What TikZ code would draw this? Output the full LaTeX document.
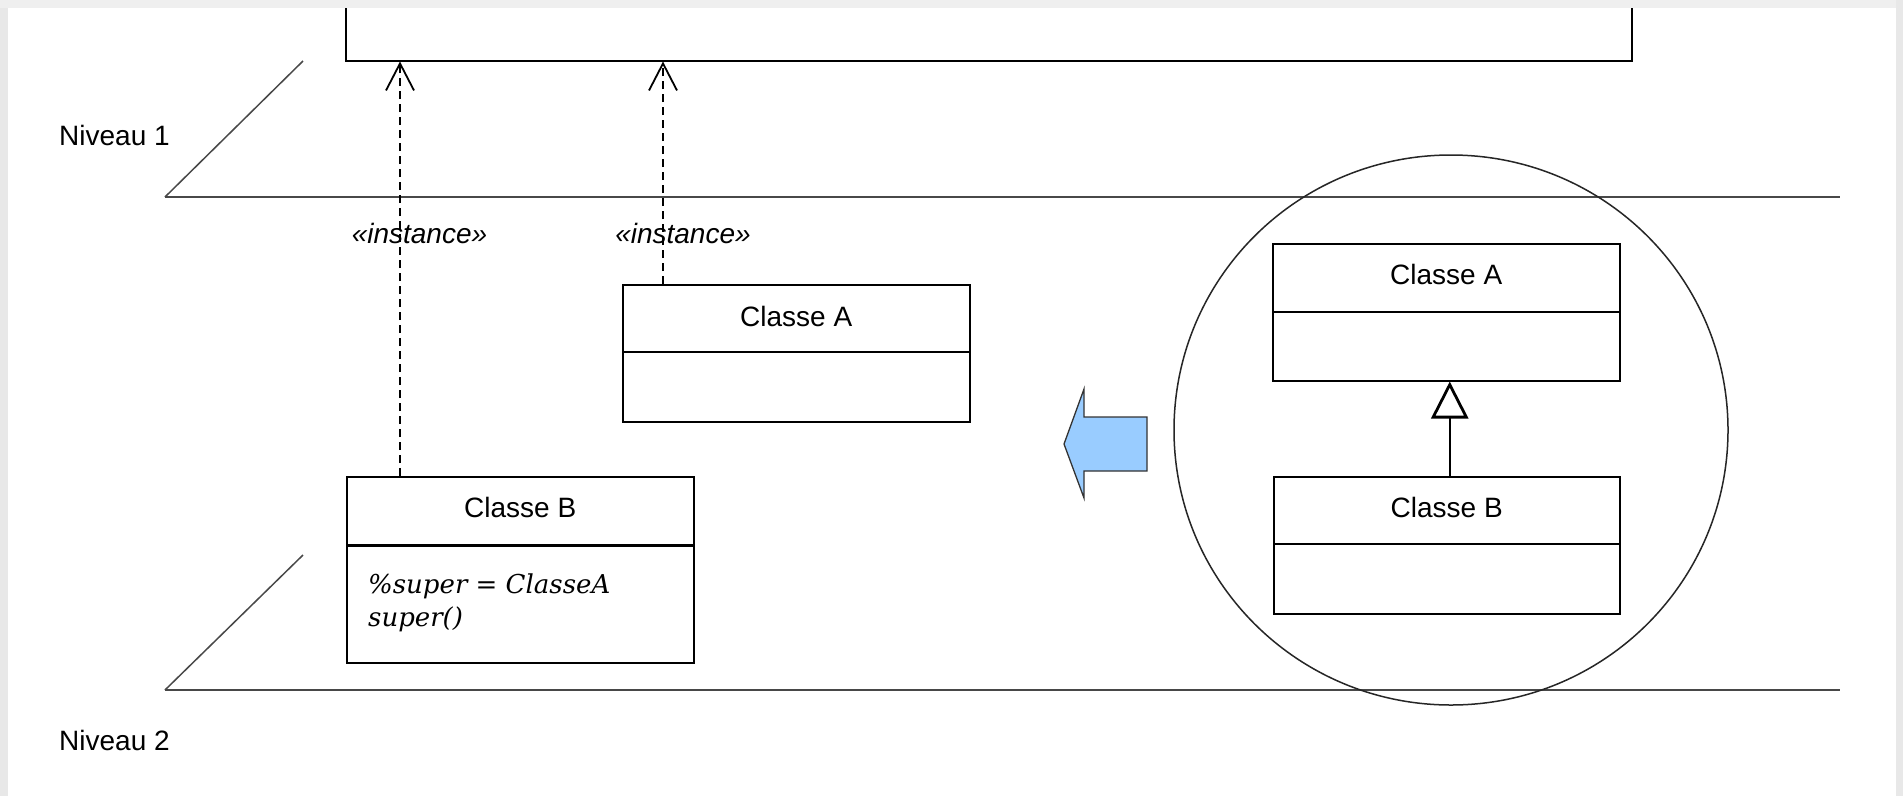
\documentclass[tikz,border=0pt]{standalone}
\usepackage{fontspec}
\setmainfont{Liberation Sans}
\newfontfamily\codefont{DejaVu Serif}
\usetikzlibrary{arrows.meta,shapes.geometric}
\definecolor{bandgray}{HTML}{E8E8E8}
\definecolor{topgray}{HTML}{EFEFEF}
\definecolor{layergray}{HTML}{484848}
\definecolor{arrowblue}{HTML}{99CCFF}
\begin{document}
\begin{tikzpicture}[x=1pt,y=-1pt,
  lbl/.style={font=\fontsize{28pt}{34pt}\selectfont, inner sep=0pt},
  stereo/.style={font=\fontsize{28pt}{34pt}\selectfont\itshape, inner sep=0pt},
  codetxt/.style={font=\codefont\itshape\fontsize{26pt}{33pt}\selectfont, inner sep=0pt, anchor=base west},
  classbox/.style={draw=black, line width=1.5pt, rectangle, inner sep=0pt, anchor=north west},
  divider/.style={draw=black, line width=1.5pt},
  dep/.style={draw=black, line width=1.4pt, dash pattern=on 8pt off 5pt, -{Straight Barb[length=27pt,width=28pt,line width=1.8pt]}},
  layer/.style={draw=layergray, line width=2pt},
  slant/.style={draw=layergray, line width=1.5pt},
  inh/.style={draw=black, line width=1.5pt, -{Triangle[open, length=37pt, width=37pt, line width=2.8pt]}}]
\useasboundingbox (0,0) rectangle (1903,796);
\fill[white] (0,0) rectangle (1903,796);

% layers
\coordinate (l1a) at (303,61);
\coordinate (l1b) at (165,197);
\coordinate (l1c) at (1840,197);
\coordinate (l2a) at (303,555);
\coordinate (l2b) at (165,690);
\coordinate (l2c) at (1840,690);
\draw[slant] (l1a) -- (l1b);
\draw[layer] (l1b) -- (l1c);
\draw[slant] (l2a) -- (l2b);
\draw[layer] (l2b) -- (l2c);
\node[lbl, anchor=west] (n1) at (59,135) {Niveau 1};
\node[lbl, anchor=west] (n2) at (59,740) {Niveau 2};

% top box
\node[classbox, minimum width=1286pt, minimum height=80pt] (top) at (345,-20) {};

% left classes
\node[classbox, minimum width=347pt, minimum height=137pt] (A1) at (622,284) {};
\draw[divider] ([yshift=-68pt]A1.north west) -- ([yshift=-68pt]A1.north east);
\node[lbl] (A1t) at ([yshift=-32pt]A1.north) {Classe A};

\node[classbox, minimum width=347pt, minimum height=186pt] (B1) at (346,476) {};
\draw[divider, line width=3pt] ([yshift=-69pt]B1.north west) -- ([yshift=-69pt]B1.north east);
\node[lbl] (B1t) at ([yshift=-31pt]B1.north) {Classe B};
\node[codetxt] (B1a) at (368,593) {\%super = ClasseA};
\node[codetxt] (B1b) at (368,626) {super()};

% instance dependencies
\coordinate (d1s) at ([xshift=54pt]B1.north west);
\coordinate (d2s) at ([xshift=41pt]A1.north west);
\draw[dep] (d1s) -- (d1s |- top.south);
\draw[dep] (d2s) -- (d2s |- top.south);
\node[stereo] (i1) at (419.5,233) {«instance»};
\node[stereo] (i2) at (683,233) {«instance»};

% blue arrow
\draw[fill=arrowblue, draw=black!80, line width=1.3pt, line join=miter]
  (1147,417) -- (1084,417) -- (1084,389) -- (1064,444) -- (1084,498) -- (1084,471) -- (1147,471) -- cycle;

% zoom circle
\node[draw=black!85, line width=1.5pt, ellipse, minimum width=554pt, minimum height=550pt, inner sep=0pt] (zc) at (1451,430) {};

\node[classbox, minimum width=347pt, minimum height=137pt] (A2) at (1272,243) {};
\draw[divider] ([yshift=-69pt]A2.north west) -- ([yshift=-69pt]A2.north east);
\node[lbl] (A2t) at ([yshift=-31pt]A2.north) {Classe A};

\node[classbox, minimum width=346pt, minimum height=137pt] (B2) at (1273,476) {};
\draw[divider] ([yshift=-68pt]B2.north west) -- ([yshift=-68pt]B2.north east);
\node[lbl] (B2t) at ([yshift=-31pt]B2.north) {Classe B};

\coordinate (g1) at ([xshift=3pt]B2.north);
\draw[inh] (g1) -- (g1 |- A2.south);

% frame bands
\fill[bandgray] (0,0) rectangle (8,796);
\fill[topgray] (0,0) rectangle (1903,8);
\fill[bandgray] (1896,0) rectangle (1903,796);
\end{tikzpicture}
\end{document}
